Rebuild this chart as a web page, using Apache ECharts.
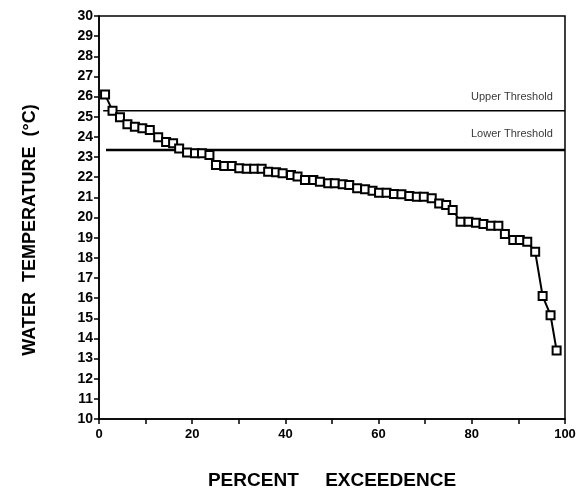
<!DOCTYPE html>
<html>
<head>
<meta charset="utf-8">
<script src="https://cdn.jsdelivr.net/npm/echarts@6/dist/echarts.min.js"></script>
<style>
  html, body { margin: 0; padding: 0; background: #fff; }
  #chartmain { width: 580px; height: 489px; }
</style>
</head>
<body>
<div id="chartmain"></div>
<script>
// 数据
var percentExceed = [1.3, 2.9, 4.5, 6.1, 7.7, 9.3, 10.9, 12.7, 14.4, 15.9, 17.2, 18.9, 20.6, 22.1, 23.7,
  25.1, 26.9, 28.5, 30.1, 31.7, 33.3, 34.9, 36.3, 38.0, 39.4, 41.2, 42.6, 44.2, 46.0, 47.4,
  49.2, 50.6, 52.3, 53.7, 55.4, 57.1, 58.7, 60.1, 61.7, 63.3, 64.9, 66.6, 68.2, 69.7, 71.4,
  73.0, 74.5, 75.9, 77.6, 79.3, 80.9, 82.5, 84.1, 85.7, 87.1, 88.9, 90.3, 91.9, 93.6, 95.2,
  96.9, 98.2];
var waterTemp = [26.1, 25.3, 24.97, 24.63, 24.5, 24.43, 24.34, 23.98, 23.75, 23.68, 23.43, 23.22, 23.19, 23.19, 23.1,
  22.6, 22.55, 22.55, 22.44, 22.42, 22.42, 22.42, 22.27, 22.24, 22.19, 22.11, 22.03, 21.86, 21.86, 21.78,
  21.7, 21.7, 21.65, 21.61, 21.45, 21.4, 21.33, 21.23, 21.23, 21.17, 21.15, 21.07, 21.03, 21.03, 20.95,
  20.7, 20.62, 20.37, 19.79, 19.79, 19.74, 19.68, 19.59, 19.59, 19.18, 18.88, 18.88, 18.8, 18.3, 16.1,
  15.15, 13.4];
var thresholdNames = ['Upper Threshold', 'Lower Threshold'];
var thresholdValues = [25.3, 23.35];
var thresholdStart = [0.9, 1.5];
var xTicks = [0, 20, 40, 60, 80, 100];

var fontFam = '"Liberation Sans", Arial, Helvetica, sans-serif';

var myChart = echarts.init(document.getElementById('chartmain'));

var points = percentExceed.map(function (x, i) { return [x, waterTemp[i]]; });

// 阈值线
var thresholdSeries = [];
thresholdNames.forEach(function (nm, i) {
  thresholdSeries.push({
    name: nm,
    type: 'line',
    symbol: 'none',
    silent: true,
    z: 1,
    lineStyle: { color: '#000', width: i == 0 ? 1.5 : 2.5 },
    data: [[thresholdStart[i], thresholdValues[i]], [100, thresholdValues[i]]]
  });
  // 阈值文字
  thresholdSeries.push({
    name: nm + ' label',
    type: 'scatter',
    silent: true,
    symbolSize: 0,
    data: [[97.4, thresholdValues[i]]],
    label: {
      show: true,
      formatter: nm,
      position: 'top',
      distance: i == 0 ? 8 : 11,
      align: 'right',
      color: '#000',
      fontFamily: fontFam,
      fontSize: 11
    }
  });
});

var option = {
  animation: false,
  backgroundColor: '#fff',
  grid: {
    left: 99, right: 15, top: 16, bottom: 70,
    outerBoundsMode: 'none',
    containLabel: false,
    show: true, borderColor: '#000', borderWidth: 1.5, backgroundColor: 'transparent'
  },
  xAxis: {
    type: 'value',
    min: 0, max: 100, interval: 10,
    name: 'PERCENT     EXCEEDENCE',
    nameLocation: 'middle',
    nameGap: 52,
    nameTextStyle: { color: '#000', fontFamily: fontFam, fontWeight: 'bold', fontSize: 19 },
    axisLine: { lineStyle: { color: '#000', width: 1.5 } },
    axisTick: { show: true, inside: false, length: 5, lineStyle: { color: '#000', width: 1.5 } },
    splitLine: { show: false },
    axisLabel: {
      color: '#000', fontFamily: fontFam, fontWeight: 'bold', fontSize: 13, margin: 9,
      formatter: function (v) { return xTicks.indexOf(v) >= 0 ? String(v) : ''; }
    }
  },
  yAxis: {
    type: 'value',
    min: 10, max: 30, interval: 1,
    name: 'WATER  TEMPERATURE  (°C)     ',
    nameLocation: 'middle',
    nameGap: 60,
    nameTextStyle: { color: '#000', fontFamily: fontFam, fontWeight: 'bold', fontSize: 18 },
    axisLine: { show: true, lineStyle: { color: '#000', width: 1.5 } },
    axisTick: { show: true, inside: false, length: 5, lineStyle: { color: '#000', width: 1.5 } },
    splitLine: { show: false },
    axisLabel: { color: '#000', fontFamily: fontFam, fontWeight: 'bold', fontSize: 14, margin: 6 }
  },
  series: thresholdSeries.concat([{
    name: 'Water Temperature',
    type: 'line',
    z: 3,
    data: points,
    symbol: 'rect',
    symbolSize: 8,
    lineStyle: { color: '#000', width: 2 },
    itemStyle: { color: '#fff', borderColor: '#000', borderWidth: 2 }
  }])
};

myChart.setOption(option);
window.addEventListener('resize', function () {
  myChart.resize();
});
</script>
</body>
</html>
